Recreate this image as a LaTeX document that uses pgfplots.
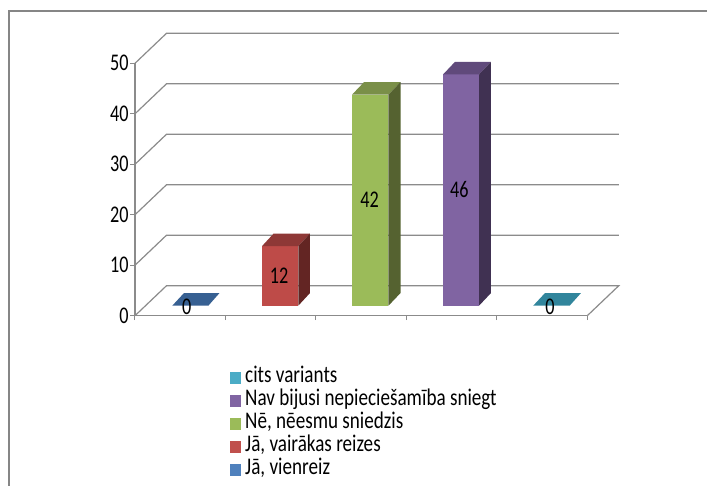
\documentclass[border=0pt]{standalone}
\usepackage{fontspec}
\usepackage{pgfplots}
\pgfplotsset{compat=1.18}
\setmainfont{Carlito}
\newfontfamily\nfont[FakeStretch=0.76]{Carlito}
\newfontfamily\lfont[FakeStretch=0.8]{Carlito}
\newcommand\lblfont{\nfont\fontsize{24}{26}\selectfont}
\newcommand\legfont{\lfont\fontsize{24}{26}\selectfont}
\definecolor{gridc}{HTML}{8B8B8B}
\definecolor{framec}{HTML}{868686}
\definecolor{blueT}{HTML}{376092}
\definecolor{redF}{HTML}{BE4B48}
\definecolor{redT}{HTML}{8E3836}
\definecolor{redS}{HTML}{632523}
\definecolor{greenF}{HTML}{9BBB59}
\definecolor{greenT}{HTML}{7A8F48}
\definecolor{greenS}{HTML}{556230}
\definecolor{purpleF}{HTML}{8064A2}
\definecolor{purpleT}{HTML}{604A7B}
\definecolor{purpleS}{HTML}{403152}
\definecolor{tealT}{HTML}{31859C}
\definecolor{HTMLteal}{HTML}{4BACC6}
\definecolor{HTMLpurple}{HTML}{8064A2}
\definecolor{HTMLgreen}{HTML}{9BBB59}
\definecolor{HTMLred}{HTML}{C0504D}
\definecolor{HTMLblue}{HTML}{4F81BD}
\begin{document}
\begin{tikzpicture}
\begin{axis}[
  scale only axis, width=452.3bp, height=252.4bp,
  xmin=0, xmax=5, ymin=0, ymax=50,
  clip=false,
  axis lines=left,
  axis line style={-, gridc, line width=1.2bp},
  tick style={gridc, line width=1bp},
  tick align=outside,
  major tick length=4.5bp,
  xtick={0,1,2,3,4,5},
  xticklabels={},
  ytick={0,10,20,30,40,50},
  /pgf/number format/assume math mode=true,
  ticklabel style={font=\lblfont, text=black},
  yticklabel style={xshift=1.5bp},
  legend image code/.code={\path[#1] (0bp,-6bp) rectangle (11bp,6bp); \path (15bp,0bp);},
  legend cell align=left,
  legend style={at={(0.2105,-0.2)}, anchor=north west, draw=none, fill=none,
    font=\legfont, row sep=0bp, inner sep=0bp, outer sep=0bp,
    nodes={inner sep=0bp, text height=16bp, text depth=7bp}},
  barf/.style={fill=#1, draw=none, forget plot, yshift=9bp},
  gline/.style={gridc, line width=1.2bp, forget plot, mark=none},
]
% walls
\addplot[gline] coordinates {(0,0) (0.348,5.94) (5.348,5.94) (5,0)};
\addplot[gline] coordinates {(0,10) (0.348,15.94) (5.348,15.94)};
\addplot[gline] coordinates {(0,20) (0.348,25.94) (5.348,25.94)};
\addplot[gline] coordinates {(0,30) (0.348,35.94) (5.348,35.94)};
\addplot[gline] coordinates {(0,40) (0.348,45.94) (5.348,45.94)};
\addplot[gline] coordinates {(0,50) (0.348,55.94) (5.348,55.94)};
% Ja, vienreiz = 0
\addplot[barf=blueT] coordinates {(0.412,0.2) (0.811,0.2) (0.934,2.7) (0.541,2.7)} -- cycle;
% Ja, vairakas reizes = 12
\addplot[barf=redF] coordinates {(1.404,0.2) (1.805,0.2) (1.805,12) (1.404,12)} -- cycle;
\addplot[barf=redT] coordinates {(1.404,12) (1.805,12) (1.934,14.5) (1.533,14.5)} -- cycle;
\addplot[barf=redS] coordinates {(1.805,0.2) (1.934,2.7) (1.934,14.5) (1.805,12)} -- cycle;
% Ne = 42
\addplot[barf=greenF] coordinates {(2.399,0.2) (2.802,0.2) (2.802,42) (2.399,42)} -- cycle;
\addplot[barf=greenT] coordinates {(2.399,42) (2.802,42) (2.935,44.5) (2.532,44.5)} -- cycle;
\addplot[barf=greenS] coordinates {(2.802,0.2) (2.935,2.7) (2.935,44.5) (2.802,42)} -- cycle;
% Nav bijusi = 46
\addplot[barf=purpleF] coordinates {(3.405,0.2) (3.803,0.2) (3.803,46) (3.405,46)} -- cycle;
\addplot[barf=purpleT] coordinates {(3.405,46) (3.803,46) (3.935,48.5) (3.537,48.5)} -- cycle;
\addplot[barf=purpleS] coordinates {(3.803,0.2) (3.935,2.7) (3.935,48.5) (3.803,46)} -- cycle;
% cits variants = 0
\addplot[barf=tealT] coordinates {(4.402,0.2) (4.805,0.2) (4.93,2.7) (4.532,2.7)} -- cycle;
% data labels
\node[font=\lblfont, inner sep=0pt] at (axis cs:0.572,1.72) {0};
\node[font=\lblfont, inner sep=0pt] at (axis cs:1.592,7.86) {12};
\node[font=\lblfont, inner sep=0pt] at (axis cs:2.593,22.9) {42};
\node[font=\lblfont, inner sep=0pt] at (axis cs:3.585,24.9) {46};
\node[font=\lblfont, inner sep=0pt] at (axis cs:4.588,1.72) {0};
% legend
\addlegendimage{fill=HTMLteal, draw=none}
\addlegendentry{cits variants}
\addlegendimage{fill=HTMLpurple, draw=none}
\addlegendentry{Nav bijusi nepieciešamība sniegt}
\addlegendimage{fill=HTMLgreen, draw=none}
\addlegendentry{Nē, nēesmu sniedzis}
\addlegendimage{fill=HTMLred, draw=none}
\addlegendentry{Jā, vairākas reizes}
\addlegendimage{fill=HTMLblue, draw=none}
\addlegendentry{Jā, vienreiz}
\end{axis}
% outer frame and page extent
\path (-135bp,-170.3bp) rectangle (572bp,315.7bp);
\draw[overlay, framec, line width=2bp] (-126bp,-170.3bp) -- (-126bp,304.7bp) -- (572bp,304.7bp);
\end{tikzpicture}
\end{document}
